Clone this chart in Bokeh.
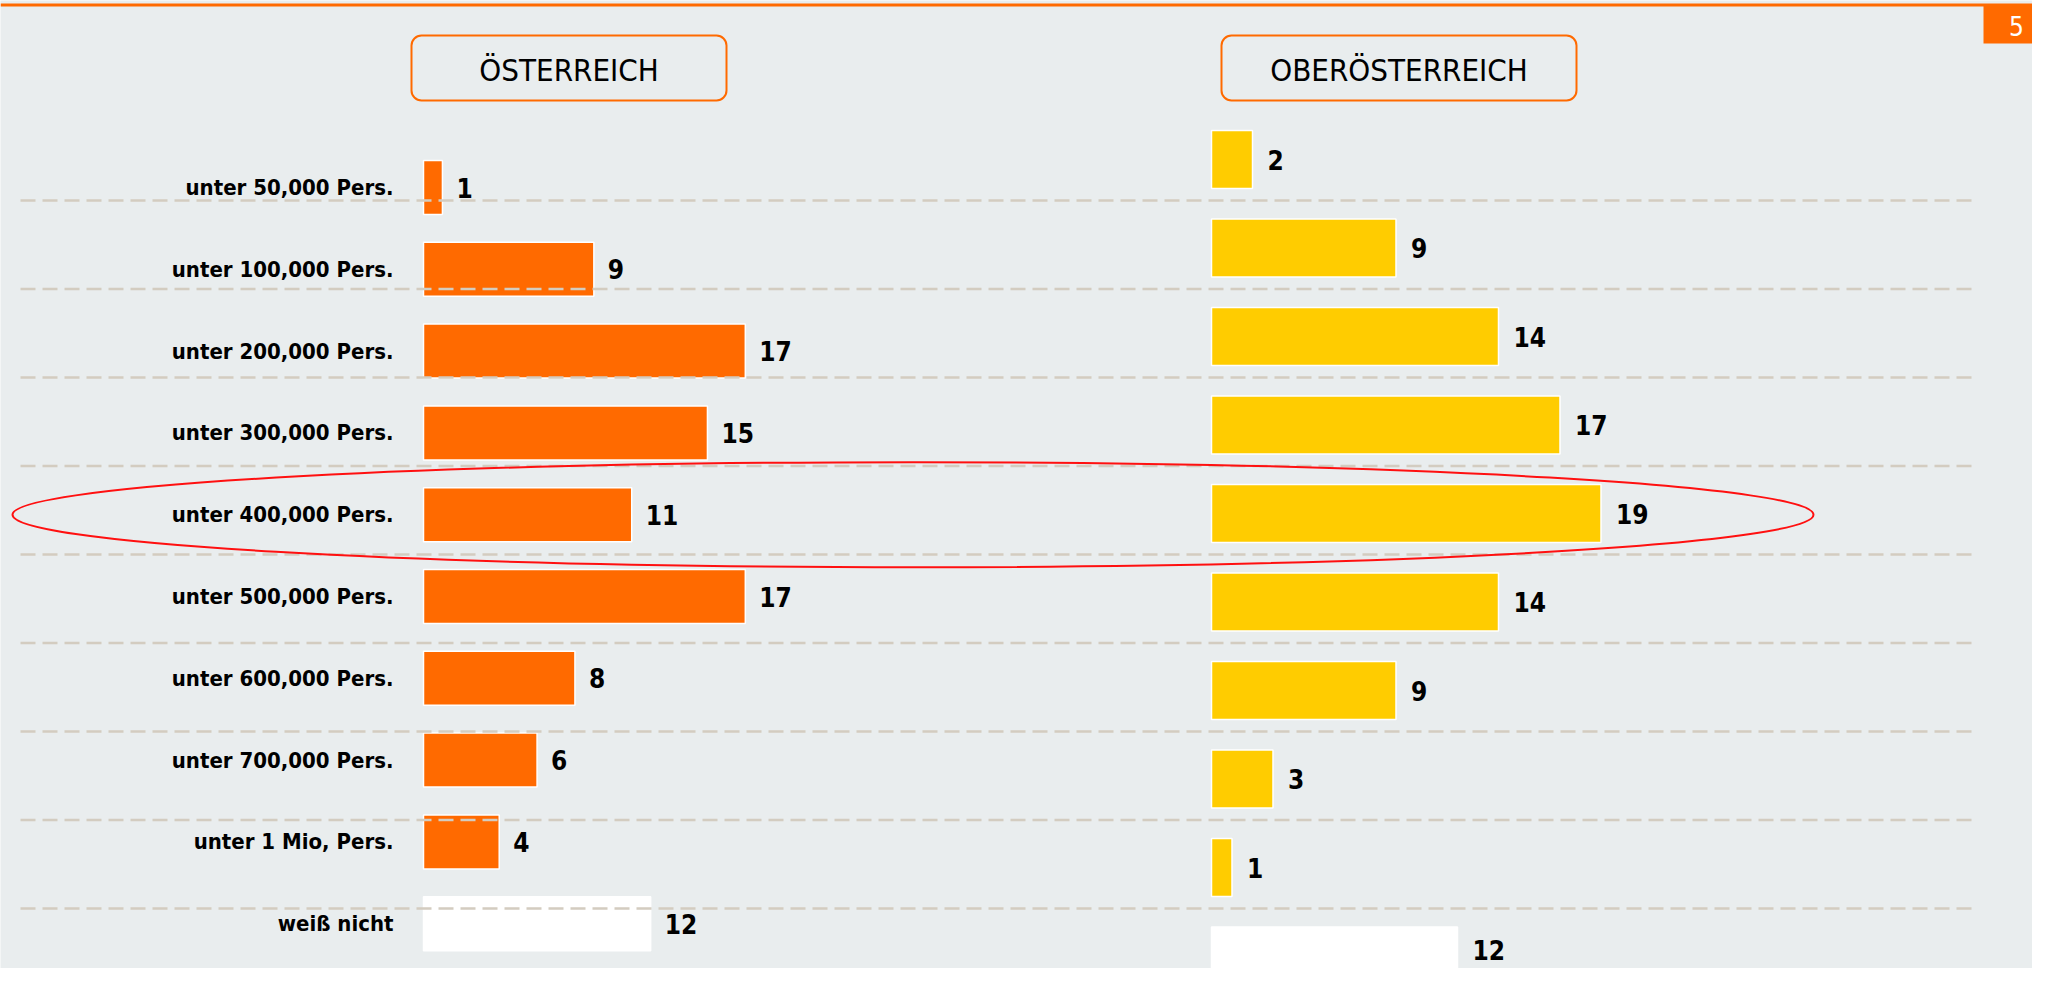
from bokeh.plotting import figure
from bokeh.models import Range1d, BoxAnnotation, Span
from bokeh.core.properties import value
from bokeh.embed import file_html
from bokeh.resources import INLINE

# ---------------- data ----------------
categories = ["unter 50,000 Pers.", "unter 100,000 Pers.", "unter 200,000 Pers.",
              "unter 300,000 Pers.", "unter 400,000 Pers.", "unter 500,000 Pers.",
              "unter 600,000 Pers.", "unter 700,000 Pers.", "unter 1 Mio, Pers.",
              "weiß nicht"]
oesterreich = [1, 9, 17, 15, 11, 17, 8, 6, 4, 12]
oberoesterreich = [2, 9, 14, 17, 19, 14, 9, 3, 1, 12]
panel_titles = ["ÖSTERREICH", "OBERÖSTERREICH"]
page_number = "5"
highlight_row = 4  # "unter 400,000 Pers."

# ---------------- styles ----------------
BG = "#E9EDEE"
ORANGE = "#FF6A00"
YELLOW = "#FFCC00"
GRID = "#D3CCC0"
FONT = "DejaVu Sans Condensed"
W, H = 2032, 968
OFF = 0

# pixel geometry of the two value scales (picture px)
L_X0, L_SC = 423.0, 18.93
R_X0, R_SC = 1211.0, 20.5
L_Y0, L_ST = 187.0, 81.8
R_Y0, R_ST = 159.0, 88.5
TITLE_BOXES = [(411, 726), (1221, 1576)]

def lx(px):
    return (px - L_X0) / L_SC

def ly(py):
    return (py - L_Y0) / L_ST

p = figure(width=W, height=H, output_backend="svg", toolbar_location=None,
           x_range=Range1d(lx(OFF), lx(OFF + W)),
           y_range=Range1d(ly(OFF + H), ly(OFF)),
           min_border=0, min_border_left=0, min_border_right=0,
           min_border_top=0, min_border_bottom=0)
p.extra_x_ranges = {"right": Range1d((OFF - R_X0) / R_SC, (OFF + W - R_X0) / R_SC)}
p.extra_y_ranges = {"right": Range1d((OFF + H - R_Y0) / R_ST, (OFF - R_Y0) / R_ST)}
p.xaxis.visible = False
p.yaxis.visible = False
p.grid.visible = False
p.outline_line_color = None
p.background_fill_color = BG
p.border_fill_color = BG

idx = list(range(len(categories)))
l_colors = [ORANGE] * (len(categories) - 1) + ["white"]
r_colors = [YELLOW] * (len(categories) - 1) + ["white"]

# title boxes (underlay so text sits on top)
for (x0, x1) in TITLE_BOXES:
    p.add_layout(BoxAnnotation(left=lx(x0), right=lx(x1), top=ly(35), bottom=ly(100),
                               fill_color=BG, fill_alpha=1.0, line_color=ORANGE,
                               line_alpha=1.0, line_width=2, border_radius=10,
                               level="underlay"))

# left bars
p.hbar(y=idx, left=0, right=oesterreich, height=0.66, fill_color=l_colors,
       line_color="white", line_width=1.5)
# right bars
p.hbar(y=idx, left=0, right=oberoesterreich, height=0.655, fill_color=r_colors,
       line_color="white", line_width=1.5, x_range_name="right", y_range_name="right")

# dashed separator lines (shared, in right-row units between rows)
grid_y = [i + (200 - R_Y0) / R_ST for i in range(len(categories) - 1)]
p.segment(x0=[lx(20)] * len(grid_y), x1=[lx(1972)] * len(grid_y), y0=grid_y, y1=grid_y,
          y_range_name="right", line_color=GRID, line_width=2.5, line_dash="15 7")

# category labels
p.text(x=[0] * len(categories), y=idx, text=categories, x_offset=-30,
       text_align="right", text_baseline="middle",
       text_font=value(FONT), text_font_style="bold",
       text_font_size="22px", text_color="black")

# value labels
p.text(x=oesterreich, y=idx, text=[str(v) for v in oesterreich], x_offset=14,
       text_align="left", text_baseline="middle",
       text_font=value(FONT), text_font_style="bold",
       text_font_size="26px", text_color="black")
r_yoff = [0] * (len(categories) - 1) + [-6]
p.text(x=oberoesterreich, y=idx, text=[str(v) for v in oberoesterreich], x_offset=15,
       y_offset=r_yoff, text_align="left", text_baseline="middle",
       text_font=value(FONT), text_font_style="bold",
       text_font_size="26px", text_color="black",
       x_range_name="right", y_range_name="right")

# panel titles
for (x0, x1), t in zip(TITLE_BOXES, panel_titles):
    p.text(x=[lx((x0 + x1) / 2)], y=[ly(69)], text=[t], text_align="center",
           text_baseline="middle", text_font=value(FONT),
           text_font_size="31px", text_color="black")

# highlight ellipse
p.ellipse(x=[lx(912.5)], y=[highlight_row], width=1801, height=105,
          width_units="screen", height_units="screen",
          fill_color=None, line_color="#FF1010", line_width=2)

# top orange rule
p.add_layout(Span(location=ly(4.5), dimension="width", line_color=ORANGE, line_width=3))

# page number box
p.quad(left=[lx(1983)], right=[lx(2045)], top=[ly(5)], bottom=[ly(43)],
       fill_color=ORANGE, line_color=None)
p.text(x=[lx(2016)], y=[ly(25)], text=[page_number], text_align="center",
       text_baseline="middle", text_font=value(FONT),
       text_font_size="26px", text_color="white")

open("out.html", "w").write(file_html(p, INLINE))
